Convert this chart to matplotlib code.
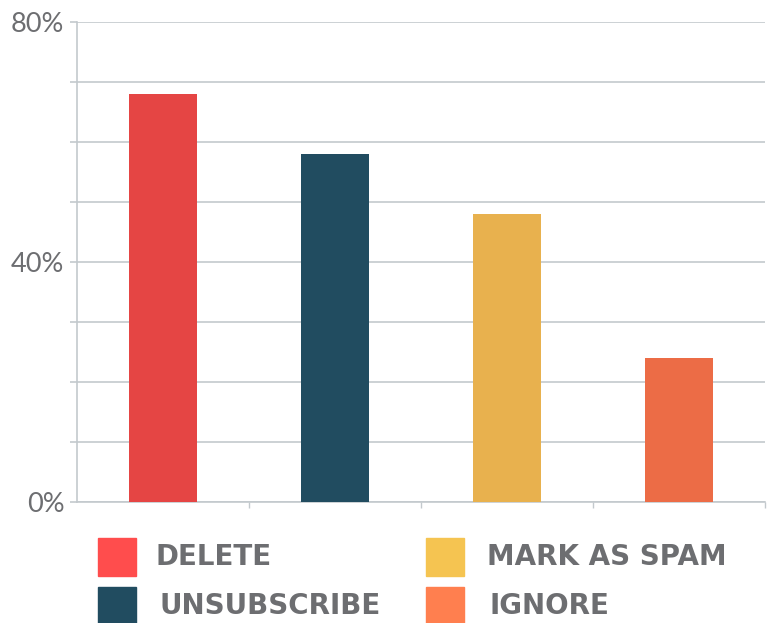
import matplotlib.pyplot as plt
from matplotlib.patches import Rectangle

categories = ['DELETE', 'UNSUBSCRIBE', 'MARK AS SPAM', 'IGNORE']
values = [68, 58, 48, 24]
bar_colors = ['#E54544', '#214C60', '#E8B14E', '#EC6C46']
legend_colors = ['#FF4D4D', '#214C60', '#F5C451', '#FF7F4F']

text_gray = '#6D6E71'
grid_gray = '#C3C9CD'

plt.rcParams['font.family'] = ['Lato', 'DejaVu Sans']

fig = plt.figure(figsize=(7.68, 6.23), dpi=100)
ax = fig.add_axes([77 / 768, 1 - 502 / 623, (765 - 77) / 768, (502 - 22) / 623])

x = range(len(categories))
ax.bar(x, values, width=0.4, color=bar_colors, zorder=3)

ax.set_xlim(-0.5, len(categories) - 0.5)
ax.set_ylim(0, 80)

ax.set_yticks(range(0, 81, 10))
ax.set_yticklabels(['0%', '', '', '', '40%', '', '', '', '80%'],
                   fontsize=19.5, color=text_gray)
ax.set_xticks([i + 0.5 for i in range(len(categories))])
ax.set_xticklabels([])

ax.tick_params(axis='y', length=5, width=1.2, color=grid_gray, pad=4)
ax.tick_params(axis='x', length=4, width=1.0, color=grid_gray, direction='out')

ax.grid(axis='y', color=grid_gray, linewidth=1.2, zorder=0)
for side in ['top', 'right']:
    ax.spines[side].set_visible(False)
ax.spines['left'].set_color(grid_gray)
ax.spines['left'].set_linewidth(1.2)
ax.spines['bottom'].set_color(grid_gray)
ax.spines['bottom'].set_linewidth(1.2)

# legend, two columns drawn by hand
sq_x = [98, 98, 426, 426]
sq_y = [557, 606, 557, 606]
txt_x = [155, 159, 487, 489]
for i, name in enumerate(categories):
    fig.patches.append(Rectangle((sq_x[i] / 768, 1 - (sq_y[i] + 19) / 623),
                                 38 / 768, 38 / 623, color=legend_colors[i],
                                 transform=fig.transFigure, figure=fig))
    fig.text(txt_x[i] / 768, 1 - sq_y[i] / 623, name, fontsize=20,
             family='DejaVu Sans', fontweight='bold',
             color=text_gray, va='center', ha='left')

fig.savefig('out.png', dpi=100)
